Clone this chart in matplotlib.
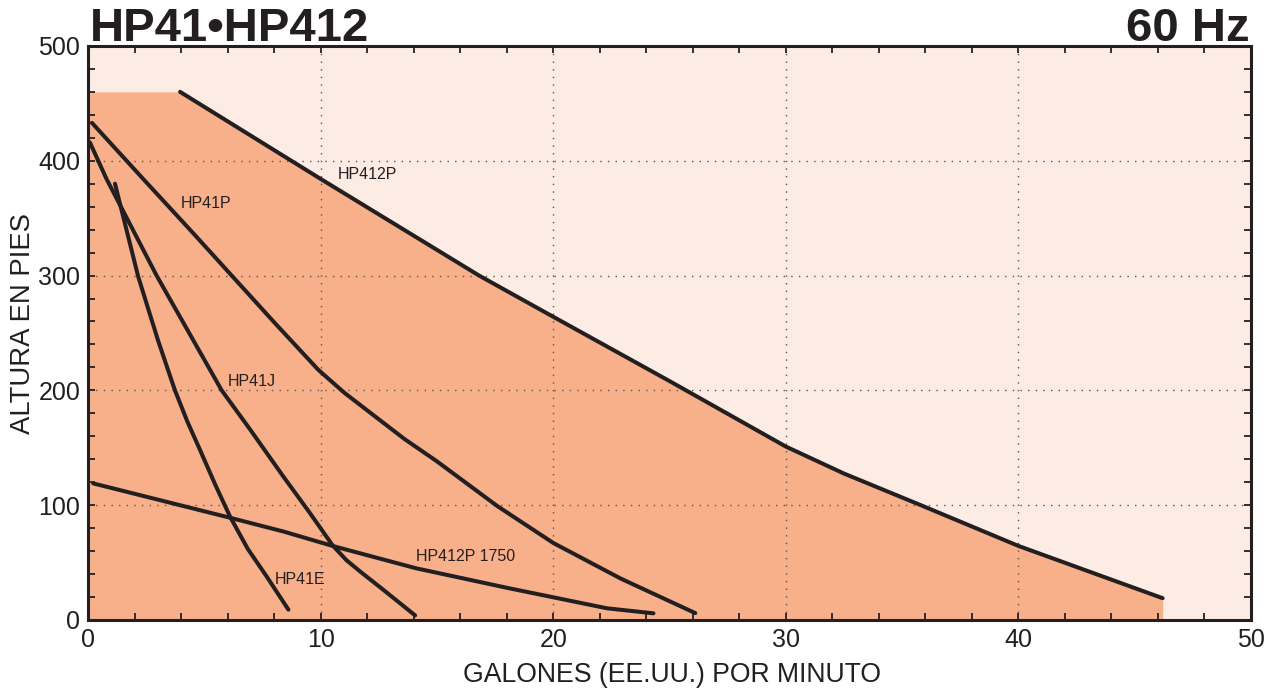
import numpy as np
import matplotlib
matplotlib.use('Agg')
import matplotlib.pyplot as plt
from matplotlib.ticker import MultipleLocator

plt.rcParams['font.family'] = ['Liberation Sans', 'DejaVu Sans']

# pump curves (gpm, feet)
hp412p_x = [3.94, 10.0, 16.8, 20.0, 25.0, 30.0, 32.5, 35.8, 40.0, 46.2]
hp412p_y = [460, 384, 300, 264, 208, 151, 127.5, 100, 64.5, 19]

hp41p_x = [0.15, 2.36, 4.5, 6.16, 8.0, 9.88, 11.0, 12.25, 13.6, 15.0, 17.6, 20.0, 22.9, 26.1]
hp41p_y = [433, 384, 337, 300, 259, 218, 198, 178.5, 157.5, 138, 99, 67, 36, 6]

hp41j_x = [0.06, 0.78, 2.93, 5.73, 6.95, 8.38, 9.53, 10.5, 11.1, 11.7, 12.7, 14.05]
hp41j_y = [416, 384, 300, 200, 166, 125, 93, 65, 52, 42, 26, 4]

hp41e_x = [1.14, 2.14, 3.0, 3.72, 4.25, 4.8, 5.45, 6.09, 6.85, 7.66, 8.6]
hp41e_y = [380, 299, 243, 200, 173, 148, 118, 90, 62, 38, 9]

hp412p1750_x = [0.2, 6.1, 8.4, 10.5, 14.1, 18.1, 22.3, 24.3]
hp412p1750_y = [119, 89, 77, 64.5, 45, 27.6, 10.2, 5.8]

# label text and where it sits
label_names = ['HP412P', 'HP41P', 'HP41J', 'HP41E', 'HP412P 1750']
label_x = [10.73, 3.98, 6.0, 8.02, 14.1]
label_y = [388, 363, 208, 35, 55]

LINE = '#231f20'
FILL = '#f8b08a'
BG = '#fcece4'

fig = plt.figure(figsize=(12.73, 6.96), dpi=100)
ax = fig.add_axes([0.0695, 0.1092, 0.9132, 0.8248])
ax.set_facecolor(BG)

# shaded operating range under HP412P
fx = [0.0] + hp412p_x
fy = [hp412p_y[0]] + hp412p_y
ax.fill_between(fx, 0, fy, color=FILL, lw=0, zorder=1)

ax.grid(True, which='major', color='#555555', linestyle=(0, (1, 4.5)), lw=1.0, zorder=2)

for xs, ys in [(hp412p_x, hp412p_y), (hp41p_x, hp41p_y), (hp41j_x, hp41j_y),
               (hp41e_x, hp41e_y), (hp412p1750_x, hp412p1750_y)]:
    ax.plot(xs, ys, color=LINE, lw=2.9, solid_capstyle='round',
            solid_joinstyle='round', zorder=3)

for name, lx, ly in zip(label_names, label_x, label_y):
    ax.text(lx, ly, name, fontsize=11.5, color=LINE, ha='left', va='center', zorder=4)

ax.set_xlim(0, 50)
ax.set_ylim(0, 500)
ax.xaxis.set_major_locator(MultipleLocator(10))
ax.xaxis.set_minor_locator(MultipleLocator(2))
ax.yaxis.set_major_locator(MultipleLocator(100))
ax.yaxis.set_minor_locator(MultipleLocator(20))
ax.tick_params(which='both', direction='in', length=5, width=1.3, color=LINE,
               top=True, right=True, labelsize=18, labelcolor=LINE, pad=6)
for s in ax.spines.values():
    s.set_linewidth(2.2)
    s.set_color(LINE)
    s.set_zorder(5)

ax.set_xlabel('GALONES (EE.UU.) POR MINUTO', fontsize=19.2, color=LINE)
ax.set_ylabel('ALTURA EN PIES', fontsize=19.8, color=LINE)
ax.xaxis.set_label_coords(0.5017, -0.073)
ax.yaxis.set_label_coords(-0.045, 0.517)

fig.text(0.0705, 0.941, 'HP41•HP412', fontsize=34, fontweight='bold', color=LINE,
         ha='left', va='baseline')
fig.text(0.982, 0.941, '60 Hz', fontsize=34, fontweight='bold', color=LINE,
         ha='right', va='baseline')

fig.savefig('out.png', dpi=100, facecolor='white')
